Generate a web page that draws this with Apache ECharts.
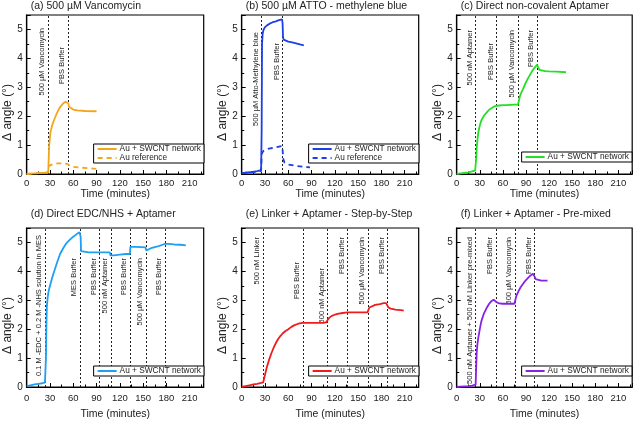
<!DOCTYPE html>
<html><head><meta charset="utf-8">
<script src="https://cdn.jsdelivr.net/npm/echarts@6/dist/echarts.min.js"></script>
<style>html,body{margin:0;padding:0;background:#fff}#c{width:638px;height:421px}</style>
</head><body><div id="c"></div>
<script>
// ---------- DATA ----------
const xTicks = [0, 30, 60, 90, 120, 150, 180, 210];
const yTicks = [0, 1, 2, 3, 4, 5];

const titles = ['(a) 500 µM Vancomycin', '(b) 500 µM ATTO - methylene blue', '(c) Direct non-covalent Aptamer',
  '(d) Direct EDC/NHS + Aptamer', '(e) Linker + Aptamer - Step-by-Step', '(f) Linker + Aptamer - Pre-mixed'];

const aNet = [[0,0],[5,0.01],[10,0.02],[15,0.03],[20,0.04],[25,0.05],[27.8,0.07],[28.3,0.5],[29,1.0],[30,1.3],[31,1.5],[33,1.7],[35,1.85],[38,2.05],[41,2.22],[44,2.35],[47,2.44],[50,2.5],[52.5,2.52],[53.5,2.45],[54.5,2.33],[56,2.27],[60,2.23],[65,2.2],[75,2.18],[90,2.17]];
const aRef = [[0,0],[10,0.02],[20,0.04],[27.5,0.05],[28.5,0.28],[30,0.31],[35,0.35],[40,0.37],[45,0.37],[50,0.36],[53,0.34],[54,0.3],[56,0.27],[60,0.25],[70,0.22],[80,0.2],[90,0.18]];
const aMarkers = [[28, '500 µM Vancomycin'], [53.5, 'PBS Buffer']];

const bNet = [[0,0.03],[10,0.06],[20,0.1],[25,0.13],[25.7,1.5],[26.2,4.5],[27,4.85],[28,4.98],[30,5.08],[33,5.15],[36,5.2],[40,5.25],[44,5.28],[48,5.32],[52,5.35],[52.7,5.2],[53.2,4.75],[54,4.65],[56,4.6],[60,4.58],[65,4.55],[70,4.52],[75,4.48],[80,4.45]];
const bRef = [[0,0.03],[10,0.05],[20,0.08],[25,0.1],[25.8,0.7],[28,0.8],[30,0.85],[35,0.88],[40,0.9],[45,0.93],[48,0.95],[52,0.97],[52.8,0.8],[53.3,0.55],[55,0.4],[60,0.33],[70,0.28],[80,0.25],[88,0.23]];
const bMarkers = [[25.6, '500 µM Atto-Methylene blue'], [52.7, 'PBS Buffer']];

const cNet = [[0,0],[5,0.02],[10,0.04],[15,0.06],[20,0.09],[24,0.12],[24.8,0.15],[25.5,0.6],[26,0.9],[27,1.2],[28,1.42],[30,1.68],[32,1.85],[35,2.0],[38,2.1],[41,2.19],[44,2.26],[47,2.31],[50,2.35],[52,2.37],[55,2.37],[60,2.38],[65,2.38],[70,2.39],[75,2.4],[79.5,2.4],[80.5,2.5],[82,2.68],[84,2.82],[86,2.93],[89,3.12],[92,3.28],[95,3.42],[98,3.56],[101,3.67],[103,3.73],[104.7,3.78],[105.7,3.7],[107.5,3.6],[110,3.57],[115,3.56],[120,3.55],[130,3.54],[142,3.52]];
const cMarkers = [[24.6, '500 nM Aptamer'], [52, 'PBS Buffer'], [80, '500 µM Vancomycin'], [104.7, 'PBS Buffer']];

const dNet = [[0,0.03],[5,0.06],[10,0.09],[15,0.11],[20,0.13],[23.5,0.15],[24.2,0.2],[24.8,1.0],[25.4,2.2],[26,2.8],[27,3.1],[28.5,3.35],[30,3.5],[33,3.8],[36,4.05],[39,4.3],[43,4.6],[47,4.8],[51,4.97],[55,5.08],[60,5.2],[64,5.28],[68,5.35],[69,5.38],[69.5,5.2],[70,4.7],[71,4.66],[80,4.66],[90,4.66],[100,4.66],[107,4.66],[108,4.55],[109,4.52],[112,4.55],[120,4.58],[128,4.6],[133,4.6],[133.5,4.85],[140,4.85],[148,4.84],[153,4.83],[154,4.72],[156,4.72],[160,4.8],[165,4.84],[170,4.87],[175,4.92],[178,4.95],[182,4.95],[190,4.93],[198,4.92],[205,4.9]];
const dMarkers = [[23.7, '0.1 M -EDC + 0.2 M -NHS solution in MES'], [69, 'MES Buffer'], [94, 'PBS Buffer'], [109, '500 nM Aptamer'], [133.6, 'PBS Buffer'], [154, '500 µM Vancomycin'], [178, 'PBS Buffer']];

const eNet = [[0,0],[5,0.03],[10,0.06],[15,0.09],[20,0.11],[25,0.14],[27.7,0.16],[28.5,0.25],[30,0.42],[32,0.65],[35,0.92],[38,1.15],[41,1.35],[44,1.52],[47,1.66],[50,1.77],[53,1.86],[56,1.93],[60,2.0],[64,2.08],[68,2.14],[72,2.18],[76,2.21],[79,2.22],[85,2.22],[95,2.22],[105,2.22],[109,2.24],[111,2.33],[113,2.4],[116,2.46],[120,2.5],[125,2.54],[130,2.56],[136,2.58],[145,2.58],[155,2.58],[162,2.58],[163,2.65],[164.5,2.75],[167,2.79],[172,2.84],[178,2.87],[183,2.9],[186,2.9],[187.5,2.85],[189,2.75],[192,2.71],[198,2.68],[205,2.66],[208.7,2.64]];
const eMarkers = [[27.7, '500 nM Linker'], [79, 'PBS Buffer'], [110.7, '500 nM Aptamer'], [136.6, 'PBS Buffer'], [163, '500 µM Vancomycin'], [188, 'PBS Buffer']];

const fNet = [[0,0],[5,0.01],[10,0.02],[15,0.03],[20,0.05],[24.6,0.08],[25.2,0.6],[26,1.2],[27,1.5],[28,1.69],[30,2.0],[32,2.27],[35,2.52],[38.8,2.73],[42,2.87],[45,2.97],[48,3.02],[50,3.02],[51,2.95],[52,2.9],[55,2.89],[60,2.88],[65,2.88],[70,2.88],[75,2.88],[76.3,2.9],[77,3.1],[78,3.18],[80,3.3],[83,3.45],[87,3.6],[90,3.7],[93,3.78],[96,3.86],[99,3.92],[100.5,3.94],[101.5,3.8],[102.5,3.73],[105,3.69],[110,3.68],[118,3.68]];
const fMarkers = [[24.6, '500 nM Aptamer + 500 nM Linker pre-mixed'], [50.9, 'PBS Buffer'], [76.3, '500 µM Vancomycin'], [101.3, 'PBS Buffer']];

const netName = 'Au + SWCNT network';
const refName = 'Au reference';

// ---------- LAYOUT / STYLE ----------
const F = "'Liberation Sans', Arial, sans-serif";
const panels = [
  {left: 26.7, top: 15, w: 177, series: [[netName, aNet, '#F2A61A', false], [refName, aRef, '#F2A61A', true]], markers: aMarkers, offs: [13, 32], legend: {right: 434, top: 144}, row: 0},
  {left: 241.7, top: 15, w: 177, series: [[netName, bNet, '#1C3FE6', false], [refName, bRef, '#1C3FE6', true]], markers: bMarkers, offs: [17, 28], legend: {right: 219, top: 144}, row: 0},
  {left: 456.7, top: 15, w: 175.5, series: [[netName, cNet, '#22E022', false]], markers: cMarkers, offs: [15, 28, 15, 15], legend: {right: 6, top: 152}, row: 0},
  {left: 26.7, top: 228, w: 177, series: [[netName, dNet, '#1E9FF2', false]], markers: dMarkers, offs: [7, 30, 30, 30, 30, 30, 30], legend: {right: 434, top: 366}, row: 1},
  {left: 241.7, top: 228, w: 177, series: [[netName, eNet, '#EE1C1C', false]], markers: eMarkers, offs: [9, 34, 40, 9, 9, 9], legend: {right: 219, top: 366}, row: 1},
  {left: 456.7, top: 228, w: 175.5, series: [[netName, fNet, '#8A22E6', false]], markers: fMarkers, offs: [9, 9, 9, 9], legend: {right: 6, top: 366}, row: 1}
];

const grid = [], xAxis = [], yAxis = [], series = [], legend = [], title = [];
panels.forEach((p, i) => {
  grid.push({left: p.left, top: p.top, width: p.w, height: 159, show: true, borderColor: '#000', borderWidth: 1.2, backgroundColor: 'transparent'});
  title.push({text: titles[i], left: p.left + 4, top: p.row === 0 ? 1 : 209, padding: 0,
    textStyle: {fontFamily: F, fontSize: 10.5, fontWeight: 'normal', color: '#222'}});
  xAxis.push({
    gridIndex: i, type: 'value', min: xTicks[0], max: 228, interval: xTicks[1] - xTicks[0],
    name: 'Time (minutes)', nameLocation: 'middle', nameGap: p.row === 0 ? 15 : 22,
    nameTextStyle: {fontFamily: F, fontSize: 10.5, color: '#222'},
    axisLine: {lineStyle: {color: '#000', width: 1.2}},
    axisTick: {inside: true, length: 4, lineStyle: {color: '#000'}},
    minorTick: {show: true, splitNumber: 2, length: 2.5, lineStyle: {color: '#000'}},
    splitLine: {show: false},
    axisLabel: {showMaxLabel: false, margin: p.row === 0 ? 4 : 6, fontFamily: F, fontSize: 9.5, color: '#222',
      formatter: v => xTicks.includes(v) ? String(v) : ''}
  });
  yAxis.push({
    gridIndex: i, type: 'value', min: yTicks[0], max: 5.5, interval: yTicks[1] - yTicks[0],
    name: 'Δ angle (°)', nameLocation: 'middle', nameGap: 11,
    nameTextStyle: {fontFamily: F, fontSize: 12, color: '#222', padding: [0, 36, 0, 0]},
    axisLine: {lineStyle: {color: '#000', width: 1.2}},
    axisTick: {inside: true, length: 4, lineStyle: {color: '#000'}},
    minorTick: {show: true, splitNumber: 2, length: 2.5, lineStyle: {color: '#000'}},
    splitLine: {show: false},
    axisLabel: {showMaxLabel: false, margin: 4, fontFamily: F, fontSize: 10, color: '#222',
      formatter: v => yTicks.includes(v) ? String(v) : ''}
  });
  const names = [];
  p.series.forEach((s, k) => {
    const nm = s[0] + '#' + i;
    names.push(nm);
    const ser = {
      type: 'line', name: nm, xAxisIndex: i, yAxisIndex: i, data: s[1], symbol: 'none', z: 3,
      lineStyle: {color: s[2], width: 1.8, type: s[3] ? [5, 4] : 'solid'}, itemStyle: {color: s[2]}
    };
    if (k === 0) {
      ser.markLine = {
        silent: true, symbol: ['none', 'none'], animation: false, z: 2,
        lineStyle: {color: '#222', type: [2, 2], width: 1},
        label: {show: true, position: 'insideEndTop', fontSize: 7.5, color: '#222', fontFamily: F, formatter: '{b}'},
        data: p.markers.map((m, j) => [
          {coord: [m[0], 0], name: m[1], label: {distance: [p.offs[j], 2]}},
          {coord: [m[0], 5.5]}
        ])
      };
    }
    series.push(ser);
  });
  legend.push(Object.assign({
    data: names, orient: 'vertical', itemWidth: 19, itemHeight: 8, itemGap: 1, z: 20,
    padding: [1, 3, 1, 3], borderColor: '#000', borderWidth: 1, backgroundColor: '#fff', borderRadius: 0,
    selectedMode: false, formatter: n => n.split('#')[0],
    itemStyle: {color: 'transparent', borderWidth: 0},
    textStyle: {fontFamily: F, fontSize: 8.3, color: '#222', padding: [0, 0, 0, -2]}
  }, p.legend));
});

const chart = echarts.init(document.getElementById('c'), null, {renderer: 'canvas'});
chart.setOption({animation: false, backgroundColor: '#fff', title, grid, xAxis, yAxis, series, legend});
</script></body></html>
